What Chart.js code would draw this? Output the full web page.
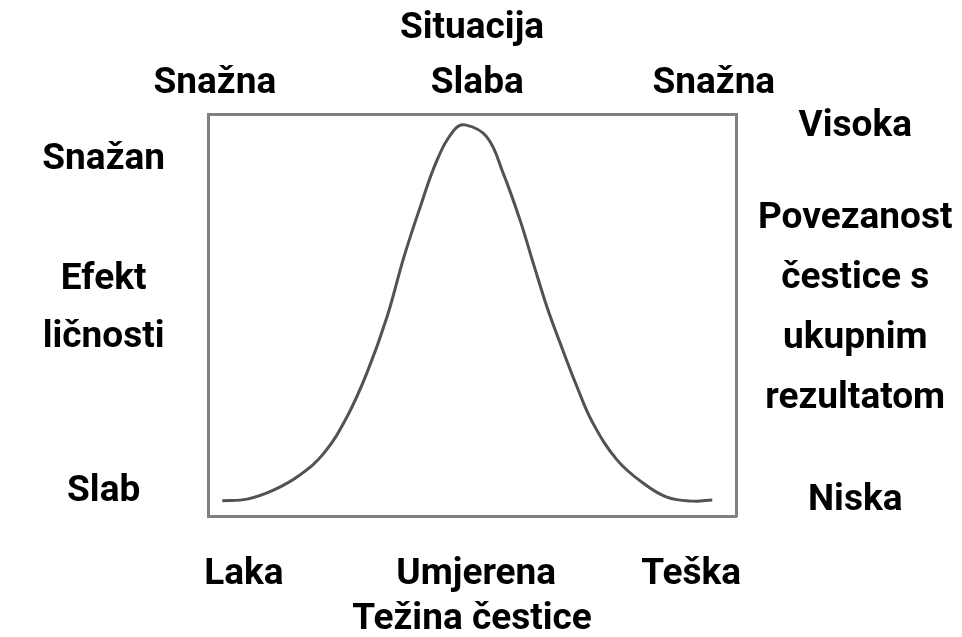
<!DOCTYPE html>
<html>
<head>
<meta charset="utf-8">
<script src="https://cdn.jsdelivr.net/npm/chart.js@4"></script>
<style>
  html, body { margin: 0; padding: 0; background: #fff; }
  #wrap { width: 962px; height: 637px; position: relative; }
</style>
</head>
<body>
<div id="wrap"><canvas id="curveChart"></canvas></div>
<script>
// Curve points (box = 0..100 on both axes)
const curveX = [2.7, 7.4, 12.5, 17.4, 22.0, 26.3, 30.1, 33.9, 37.1, 40.2, 43.4, 46.6, 48.7,
                52.8, 55.9, 59.1, 61.6, 64.2, 66.7, 69.9, 72.9, 77.5, 82.4, 86.9, 91.9, 95.5];
const curveY = [3.8, 4.2, 6.5, 10.2, 15.7, 24.6, 35.6, 49.5, 64.4, 76.9, 88.6, 96.0, 97.3,
                94.3, 85.3, 73.6, 62.9, 52.0, 43.0, 32.1, 23.1, 13.9, 8.2, 4.7, 3.7, 4.0];

// Tick labels and where they sit
const bottomLabels = ['Laka', 'Umjerena', 'Teška'];
const bottomTicks = [6.8, 50.8, 91.5];
const topLabels = ['Snažna', 'Slaba', 'Snažna'];
const topTicks = [1.3, 51.0, 95.8];
const leftLabels = ['Snažan', ['Efekt', 'ličnosti'], 'Slab'];
const leftTicks = [88.5, 51.6, 6.0];
const rightLabels = ['Visoka', ['Povezanost', 'čestice s', 'ukupnim', 'rezultatom'], 'Niska'];
const rightTicks = [96.9, 51.5, 3.8];

const bottomTitle = 'Težina čestice';
const topTitle = 'Situacija';

const boxColor = '#808080';
const fontFamily = 'Roboto';
const fontWeight = 'bold';
const fontSize = 37;

function fixedTicks(values) {
  return function(scale) {
    scale.ticks = values.map(v => ({ value: v }));
  };
}

function labelFrom(labels) {
  return function(value, index) {
    return labels[index];
  };
}

const ctx = document.getElementById('curveChart');
new Chart(ctx, {
  type: 'line',
  data: {
    datasets: [{
      data: curveX.map((x, i) => ({ x: x, y: curveY[i] })),
      borderColor: '#525252',
      borderWidth: 3,
      pointRadius: 0,
      fill: false,
      tension: 0.4
    }]
  },
  options: {
    responsive: true,
    maintainAspectRatio: false,
    animation: false,
    layout: { padding: 0 },
    plugins: {
      legend: { display: false },
      tooltip: { enabled: false }
    },
    scales: {
      x: {
        type: 'linear',
        position: 'bottom',
        min: 0,
        max: 100,
        afterFit: function(scale) { scale.height = 121; },
        afterBuildTicks: fixedTicks(bottomTicks),
        grid: { display: true, drawOnChartArea: false, drawTicks: false },
        border: { display: true, color: boxColor, width: 3 },
        ticks: {
          autoSkip: false,
          maxRotation: 0,
          padding: 37,
          color: '#000',
          font: { family: fontFamily, size: fontSize, weight: fontWeight, lineHeight: 1.2 },
          callback: labelFrom(bottomLabels)
        },
        title: {
          display: true,
          text: bottomTitle,
          color: '#000',
          padding: { top: 0, bottom: -5 },
          font: { family: fontFamily, size: fontSize, weight: fontWeight, lineHeight: 1.2 }
        }
      },
      x2: {
        type: 'linear',
        position: 'top',
        min: 0,
        max: 100,
        afterFit: function(scale) { scale.height = 114; },
        afterBuildTicks: fixedTicks(topTicks),
        grid: { display: true, drawOnChartArea: false, drawTicks: false },
        border: { display: true, color: boxColor, width: 3 },
        ticks: {
          autoSkip: false,
          maxRotation: 0,
          padding: 8,
          color: '#000',
          font: { family: fontFamily, size: fontSize, weight: fontWeight, lineHeight: 1.2 },
          callback: labelFrom(topLabels)
        },
        title: {
          display: true,
          text: topTitle,
          color: '#000',
          padding: { top: 7, bottom: 0 },
          font: { family: fontFamily, size: fontSize, weight: fontWeight, lineHeight: 1.2 }
        }
      },
      y: {
        type: 'linear',
        position: 'left',
        min: 0,
        max: 100,
        afterFit: function(scale) { scale.width = 208; },
        afterBuildTicks: fixedTicks(leftTicks),
        grid: { display: true, drawOnChartArea: false, drawTicks: false },
        border: { display: true, color: boxColor, width: 3 },
        ticks: {
          autoSkip: false,
          crossAlign: 'center',
          padding: 43,
          color: '#000',
          font: { family: fontFamily, size: fontSize, weight: fontWeight, lineHeight: 1.56 },
          callback: labelFrom(leftLabels)
        }
      },
      y2: {
        type: 'linear',
        position: 'right',
        min: 0,
        max: 100,
        afterFit: function(scale) { scale.width = 226; },
        afterBuildTicks: fixedTicks(rightTicks),
        grid: { display: true, drawOnChartArea: false, drawTicks: false },
        border: { display: true, color: boxColor, width: 3 },
        ticks: {
          autoSkip: false,
          crossAlign: 'center',
          padding: 22,
          color: '#000',
          font: { family: fontFamily, size: fontSize, weight: fontWeight, lineHeight: 1.62 },
          callback: labelFrom(rightLabels)
        }
      }
    }
  }
});
</script>
</body>
</html>
